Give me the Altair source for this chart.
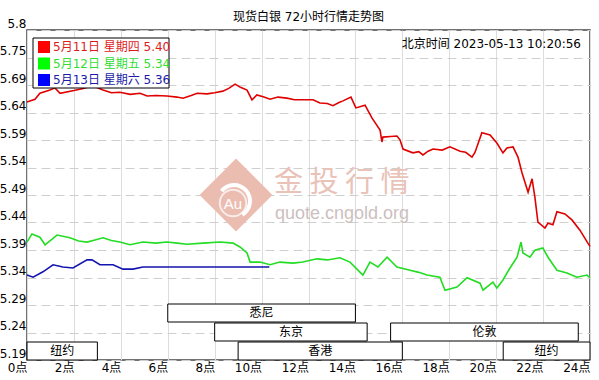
import json
import altair as alt
import pandas as pd

TITLE = "现货白银 72小时行情走势图"
STAMP = "北京时间 2023-05-13 10:20:56"

# ---- series (hour of day, price) ----
RED_H = [0, 0.34, 0.55, 0.98, 1.19, 1.41, 2.0, 2.4, 2.81, 3.24, 3.6, 3.96, 4.4, 4.82, 5.12, 5.5, 5.97,
         6.39, 6.65, 7.0, 7.25, 7.67, 8.0, 8.35, 8.6, 8.87, 9.1, 9.38, 9.59, 9.8, 10.1, 10.36, 10.7, 11.08,
         11.4, 11.76, 12.19, 12.49, 12.8, 13.04, 13.3, 13.47, 13.81, 14.02, 14.41, 14.71, 15.05, 15.13,
         15.17, 15.5, 15.77, 15.9, 16.03, 16.45, 16.7, 16.88, 17.1, 17.31, 17.7, 18.03, 18.46, 18.7, 18.97,
         19.1, 19.39, 19.74, 20.03, 20.29, 20.46, 20.72, 20.93, 21.1, 21.36, 21.53, 21.65, 21.78, 22.08,
         22.21, 22.42, 22.59, 22.93, 23.23, 23.57, 23.91, 24.0]
RED_V = [5.667, 5.672, 5.683, 5.689, 5.693, 5.683, 5.688, 5.692, 5.697, 5.689, 5.684, 5.685, 5.681,
         5.683, 5.678, 5.679, 5.678, 5.676, 5.674, 5.679, 5.683, 5.682, 5.684, 5.687, 5.692, 5.700,
         5.694, 5.689, 5.671, 5.680, 5.676, 5.672, 5.676, 5.674, 5.671, 5.671, 5.671, 5.665, 5.664,
         5.660, 5.666, 5.669, 5.676, 5.656, 5.661, 5.637, 5.615, 5.593, 5.602, 5.603, 5.604, 5.597,
         5.580, 5.573, 5.575, 5.569, 5.576, 5.580, 5.578, 5.584, 5.576, 5.574, 5.565, 5.574, 5.610,
         5.606, 5.591, 5.573, 5.582, 5.584, 5.565, 5.536, 5.500, 5.525, 5.491, 5.445, 5.434, 5.443,
         5.440, 5.464, 5.460, 5.449, 5.430, 5.406, 5.400]

GREEN_H = [0, 0.21, 0.55, 0.77, 1.28, 1.83, 2.2, 2.56, 2.9, 3.24, 3.6, 3.96, 4.39, 4.94, 5.5, 5.97, 6.4,
           6.82, 7.5, 8.23, 8.78, 9.08, 9.38, 9.51, 9.93, 10.36, 10.78, 11.34, 11.76, 12.36, 12.8, 13.34,
           13.77, 14.32, 14.62, 14.96, 15.35, 15.77, 16.33, 16.7, 17.05, 17.6, 17.82, 18.33, 18.76, 19.31,
           19.44, 19.86, 20.03, 20.29, 20.59, 20.89, 21.06, 21.14, 21.44, 21.65, 21.99, 22.21, 22.59,
           23.02, 23.44, 23.87, 24.0]
GREEN_V = [5.408, 5.423, 5.417, 5.403, 5.421, 5.416, 5.410, 5.408, 5.412, 5.416, 5.411, 5.408, 5.403,
           5.408, 5.406, 5.408, 5.406, 5.404, 5.406, 5.408, 5.406, 5.399, 5.388, 5.371, 5.371, 5.366,
           5.371, 5.369, 5.371, 5.377, 5.375, 5.379, 5.371, 5.347, 5.371, 5.362, 5.380, 5.362, 5.356,
           5.352, 5.347, 5.343, 5.319, 5.325, 5.342, 5.332, 5.319, 5.334, 5.323, 5.338, 5.360, 5.380,
           5.408, 5.388, 5.380, 5.393, 5.397, 5.380, 5.356, 5.351, 5.343, 5.347, 5.342]

BLUE_H = [0, 0.26, 0.68, 1.11, 1.53, 1.96, 2.56, 2.77, 3.11, 3.67, 4.09, 4.52, 4.94, 10.33]
BLUE_V = [5.347, 5.343, 5.353, 5.366, 5.362, 5.360, 5.375, 5.375, 5.366, 5.366, 5.358, 5.358, 5.362, 5.362]

SERIES = ["5月11日 星期四", "5月12日 星期五", "5月13日 星期六"]
LAST = ["5.40", "5.34", "5.36"]
LINE_COLORS = ["#e00000", "#22dd22", "#1414b0"]
SQUARE_COLORS = ["#ff0000", "#00ff00", "#0000ff"]
TEXT_COLORS = ["#dd1c1c", "#33dd33", "#1c1ca8"]

Y_MIN, Y_MAX = 5.19, 5.80
Y_LABELS = ["5.19", "5.24", "5.29", "5.34", "5.39", "5.44", "5.49", "5.54", "5.59",
            "5.64", "5.69", "5.75", "5.8"]
X_TICKS = list(range(0, 25, 2))

SESS_NAME = ["纽约", "悉尼", "东京", "香港", "伦敦", "纽约"]
SESS_START = [0, 6, 8, 9, 15.5, 20.3]
SESS_END = [3, 14, 14.5, 16, 23.5, 24]
SESS_ROW = [0, 2, 1, 0, 1, 0]

# ---- layout constants ----
W, H = 563, 330
PPX = (Y_MAX - Y_MIN) / H          # price per pixel
STEP = (Y_MAX - Y_MIN) / 12
FONT = "DejaVu Sans, Noto Sans CJK SC"

lines = pd.concat([
    pd.DataFrame({"h": hh, "v": vv, "series": s, "col": c})
    for hh, vv, s, c in zip([RED_H, GREEN_H, BLUE_H], [RED_V, GREEN_V, BLUE_V], SERIES, LINE_COLORS)
], ignore_index=True)

sess = pd.DataFrame({"name": SESS_NAME, "s": SESS_START, "e": SESS_END, "row": SESS_ROW})
sess["y0"] = Y_MIN + sess["row"] * 19 * PPX
sess["y1"] = sess["y0"] + 18 * PPX
sess["ym"] = (sess["y0"] + sess["y1"]) / 2
sess["xm"] = (sess["s"] + sess["e"]) / 2

leg = pd.DataFrame({
    "label": [f"{s} {l}" for s, l in zip(SERIES, LAST)],
    "sq": SQUARE_COLORS, "tc": TEXT_COLORS, "i": [0, 1, 2]})
leg["y"] = Y_MAX - (17 + 16.5 * leg["i"]) * PPX

y_label_expr = json.dumps(Y_LABELS) + f"[round((datum.value - {Y_MIN}) / {STEP})]"

x_scale = alt.Scale(domain=[0, 24], nice=False, zero=False)
y_scale = alt.Scale(domain=[Y_MIN, Y_MAX], nice=False, zero=False)

x_axis = alt.Axis(values=X_TICKS, labelExpr="datum.value + '点'", title=None,
                  grid=True, gridColor="#dcdcdc", gridWidth=1, domain=False, ticks=False,
                  labelAlign="right", labelBaseline="top", labelPadding=2,
                  labelOverlap=False, labelBound=False,
                  labelFont=FONT, labelFontSize=12, labelColor="#000")
y_axis = alt.Axis(values=[Y_MIN + k * STEP for k in range(13)], labelExpr=y_label_expr,
                  title=None, grid=True, gridColor="#cfcfcf", gridDash=[9, 5],
                  domain=False, ticks=False, labelAlign="right", labelBaseline="bottom",
                  labelOverlap=False, labelBound=False,
                  labelPadding=1, labelFont=FONT, labelFontSize=12, labelColor="#000")


def X(field):
    return alt.X(field, scale=x_scale, axis=x_axis)


def Y(field):
    return alt.Y(field, scale=y_scale, axis=y_axis)


line_layer = alt.Chart(lines).mark_line(strokeWidth=1.6).encode(
    x=X("h:Q"), y=Y("v:Q"), color=alt.Color("col:N", scale=None), detail="series:N",
    order=alt.Order("h:Q"))

one = pd.DataFrame({"k": [0]})

# watermark
wm_diamond = alt.Chart(one).mark_point(shape="diamond", filled=True, size=5300,
                                       color="#ebbdb1", opacity=1).encode(
    x=alt.value(209), y=alt.value(165))
wm_arc = alt.Chart(one).mark_arc(color="white", radius=18, radius2=14,
                                 theta=5.38, theta2=8.88).encode(
    x=alt.value(207), y=alt.value(171))
wm_circle = alt.Chart(one).mark_point(shape="circle", filled=False, size=700,
                                      color="white", strokeWidth=2).encode(
    x=alt.value(206), y=alt.value(173))
wm_au = alt.Chart(one).mark_text(text="Au", font="Liberation Sans", fontSize=15,
                                 color="white").encode(x=alt.value(206), y=alt.value(174))
wm_txt = alt.Chart(one).mark_text(text="金 投 行 情", font="Noto Sans CJK SC", fontSize=29,
                                  color="#e9c2b8", align="left", baseline="middle").encode(
    x=alt.value(247), y=alt.value(153))
wm_url = alt.Chart(one).mark_text(text="quote.cngold.org", font="Liberation Sans", fontSize=18,
                                  color="#cdbfbf", align="left", baseline="middle").encode(
    x=alt.value(248), y=alt.value(184))

sess_rect = alt.Chart(sess).mark_rect(fill="white", stroke="black", strokeWidth=1).encode(
    x=X("s:Q"), x2="e:Q", y=Y("y0:Q"), y2="y1:Q")
sess_text = alt.Chart(sess).mark_text(font=FONT, fontSize=12, color="black").encode(
    x=X("xm:Q"), y=Y("ym:Q"), text="name:N")

leg_box = alt.Chart(one).mark_rect(fill="white", stroke="black", strokeWidth=1).encode(
    x=alt.value(6), x2=alt.value(142), y=alt.value(8), y2=alt.value(58))
leg_sq = alt.Chart(leg).mark_square(size=144, filled=True, opacity=1).encode(
    x=alt.value(17), y=Y("y:Q"), color=alt.Color("sq:N", scale=None))
leg_txt = alt.Chart(leg).mark_text(font=FONT, fontSize=12, align="left", baseline="middle").encode(
    x=alt.value(26), y=Y("y:Q"), text="label:N", color=alt.Color("tc:N", scale=None))

stamp = alt.Chart(one).mark_text(text=STAMP, font=FONT, fontSize=12, color="black",
                                 align="right", baseline="middle").encode(
    x=alt.value(554), y=alt.value(14))

title = alt.Chart(one).mark_text(text=TITLE, font=FONT, fontSize=12, color="black",
                                 align="center", baseline="middle").encode(
    x=alt.value(W / 2), y=alt.value(-13))

chart = alt.layer(
    wm_diamond, wm_arc, wm_circle, wm_au, wm_txt, wm_url,
    line_layer, sess_rect, sess_text, leg_box, leg_sq, leg_txt, stamp, title
).properties(
    width=W, height=H,
    autosize=alt.AutoSizeParams(type="none"),
    padding={"left": 27, "top": 30, "right": 9, "bottom": 20},
    background="white",
).configure_view(stroke="#444", strokeWidth=1.5)

chart.save("out.html", embed_options={"renderer": "svg", "actions": False})
